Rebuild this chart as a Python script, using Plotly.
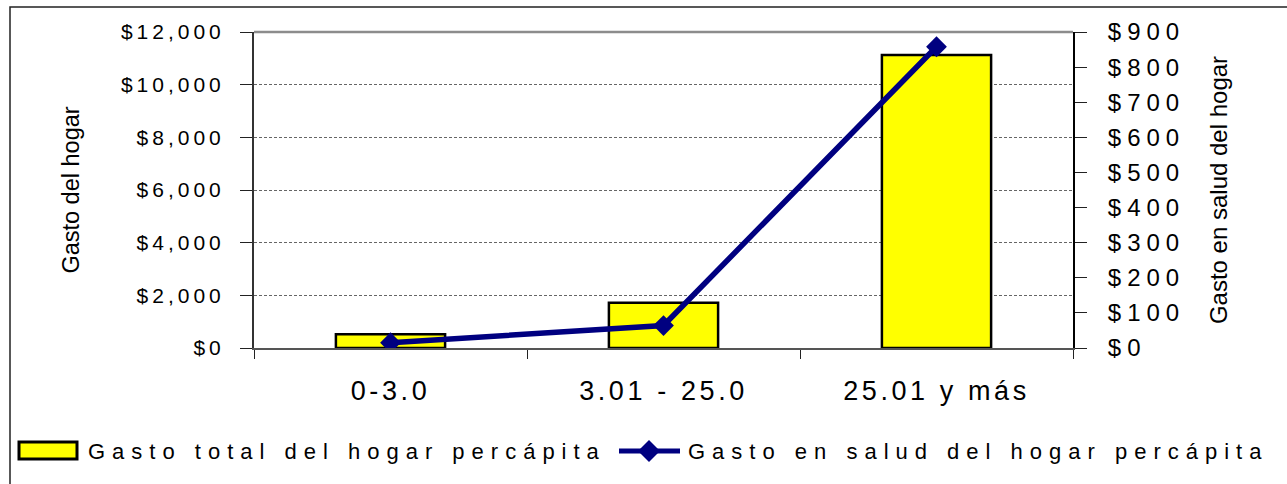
import plotly.graph_objects as go

# Data
categorias = ["0-3.0", "3.01 - 25.0", "25.01 y más"]
gasto_total = [520, 1720, 11130]      # Gasto total del hogar percápita (eje izquierdo)
gasto_salud = [15, 64, 858]           # Gasto en salud del hogar percápita (eje derecho)
ticks_izq = [0, 2000, 4000, 6000, 8000, 10000, 12000]
ticks_der = [0, 100, 200, 300, 400, 500, 600, 700, 800, 900]
serie_total = "Gasto total del hogar percápita"
serie_salud = "Gasto en salud del hogar percápita"

W, H = 1287, 484
L, R, T, B = 254, 214, 32, 136
PW, PH = W - L - R, H - T - B

FONT = "Liberation Sans, Arial, sans-serif"
YELLOW = "#FFFF00"
NAVY = "#000080"


def px(x):
    return (x - L) / PW


def py(y):
    return (H - B - y) / PH


fig = go.Figure()

fig.add_trace(go.Bar(
    x=categorias, y=gasto_total, name=serie_total,
    width=0.4, marker=dict(color=YELLOW, line=dict(color="black", width=2.5)),
    showlegend=False,
))
fig.add_trace(go.Scatter(
    x=categorias, y=gasto_salud, name=serie_salud, yaxis="y2",
    mode="lines+markers",
    line=dict(color=NAVY, width=5.5),
    marker=dict(symbol="diamond", size=16, color=NAVY),
    showlegend=False,
))

# Legend drawn as shapes + text
shapes = [
    # outer frame
    dict(type="rect", xref="paper", yref="paper",
         x0=px(10), x1=px(1300), y0=py(500), y1=py(7),
         line=dict(color="#222222", width=1.5), layer="below"),
    # top border of plot area
    dict(type="line", xref="paper", yref="paper",
         x0=0, x1=1, y0=1, y1=1, line=dict(color="#8c8c8c", width=2.5)),
    # legend: bar swatch
    dict(type="rect", xref="paper", yref="paper",
         x0=px(19), x1=px(77), y0=py(459), y1=py(442),
         fillcolor=YELLOW, line=dict(color="black", width=3)),
    # legend: line swatch
    dict(type="line", xref="paper", yref="paper",
         x0=px(619), x1=px(680), y0=py(451), y1=py(451),
         line=dict(color=NAVY, width=5)),
    dict(type="path", xref="paper", yref="paper",
         path=(f"M {px(638)} {py(451)} L {px(649)} {py(440)} "
               f"L {px(660)} {py(451)} L {px(649)} {py(462)} Z"),
         fillcolor=NAVY, line=dict(color=NAVY, width=0)),
]

annotations = [
    dict(text=serie_total, xref="paper", yref="paper",
         x=px(86), y=py(451), xanchor="left", yanchor="middle", align="left",
         showarrow=False, font=dict(family=FONT, size=22, color="black")),
    dict(text=serie_salud, xref="paper", yref="paper",
         x=px(686), y=py(451), xanchor="left", yanchor="middle", align="left",
         showarrow=False, font=dict(family=FONT, size=22, color="black")),
]

fig.update_layout(
    width=W, height=H,
    margin=dict(l=L, r=R, t=T, b=B, pad=0),
    paper_bgcolor="white", plot_bgcolor="white",
    font=dict(family=FONT, color="black"),
    bargap=0.6,
    shapes=shapes,
    annotations=annotations,
    xaxis=dict(
        type="category", categoryorder="array", categoryarray=categorias,
        range=[-0.5, 2.5], tickson="boundaries",
        ticks="outside", ticklen=9, tickwidth=1, tickcolor="#222222",
        showline=True, linecolor="#555555", linewidth=2,
        showgrid=False, zeroline=False,
        tickfont=dict(family=FONT, size=27, color="black"),
        ticklabelstandoff=18,
    ),
    xaxis2=dict(
        overlaying="x", anchor="y", side="bottom",
        range=[-0.5, 2.5], tickvals=[-0.5, 0.5, 1.5, 2.5],
        ticks="inside", ticklen=10, tickwidth=1, tickcolor="#222222",
        showticklabels=False, showgrid=False, zeroline=False, showline=False,
    ),
    yaxis=dict(
        range=[0, 12000], tickvals=ticks_izq,
        ticktext=[f"${v:,}" for v in ticks_izq],
        ticks="outside", ticklen=12, tickwidth=1, tickcolor="#222222",
        showline=True, linecolor="#333333", linewidth=2,
        showgrid=True, gridcolor="#666666", gridwidth=1, griddash="3px,2px",
        zeroline=False,
        tickfont=dict(family=FONT, size=21, color="black"),
        ticklabelstandoff=11,
        title=dict(text="Gasto del hogar", standoff=63,
                   font=dict(family=FONT, size=23.5, color="black")),
    ),
    yaxis2=dict(
        overlaying="y", side="right", anchor="x",
        range=[0, 900], tickvals=ticks_der,
        ticktext=[f"${v}" for v in ticks_der],
        ticks="outside", ticklen=12, tickwidth=1, tickcolor="#222222",
        showline=True, linecolor="#000000", linewidth=2,
        showgrid=False, zeroline=False,
        tickfont=dict(family=FONT, size=24, color="black"),
        ticklabelstandoff=16,
        title=dict(text="Gasto en salud del hogar", standoff=50,
                   font=dict(family=FONT, size=24, color="black")),
    ),
    yaxis3=dict(
        overlaying="y", side="left", anchor="x",
        range=[0, 12000], tickvals=ticks_izq,
        ticks="inside", ticklen=10, tickwidth=1, tickcolor="#222222",
        showticklabels=False, showgrid=False, zeroline=False, showline=False,
    ),
    yaxis4=dict(
        overlaying="y", side="right", anchor="x",
        range=[0, 900], tickvals=ticks_der,
        ticks="inside", ticklen=13, tickwidth=1, tickcolor="#222222",
        showticklabels=False, showgrid=False, zeroline=False, showline=False,
    ),
)

# Spaced lettering for tick labels and legend text
spacing_css = (
    "var s=document.createElement('style');"
    "s.textContent='"
    ".xtick text{letter-spacing:3.6px}"
    ".ytick text{letter-spacing:4px}"
    ".y2tick text{letter-spacing:6px}"
    ".annotation-text{letter-spacing:7px}';"
    "document.head.appendChild(s);"
)

fig.write_html("out.html", post_script=spacing_css)
